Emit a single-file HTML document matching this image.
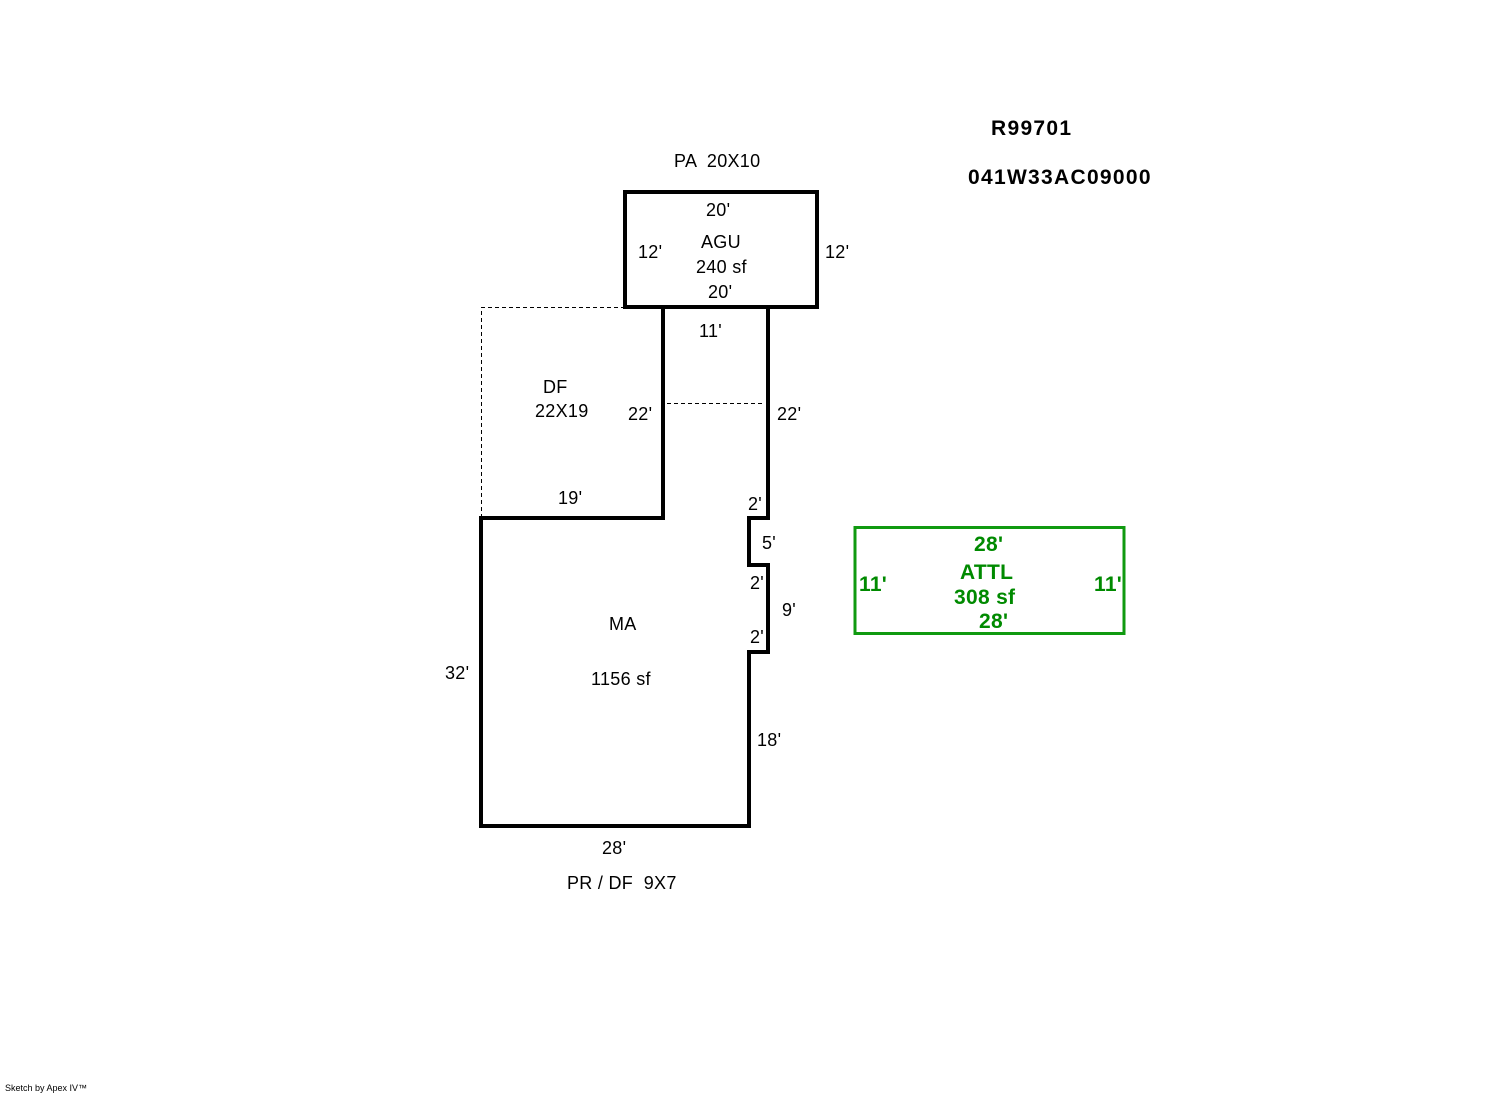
<!DOCTYPE html>
<html><head><meta charset="utf-8"><style>
body{margin:0;background:#fff}
svg text{font-family:"Liberation Sans",Arial,sans-serif;font-size:18px;fill:#000;white-space:pre;letter-spacing:0.3px}
.g{fill:#008a00;font-weight:bold;font-size:21px}
.b{font-weight:bold;font-size:21px;letter-spacing:1.3px}
</style></head><body>
<svg width="1492" height="1094" xmlns="http://www.w3.org/2000/svg">
<g fill="none" stroke="#000" stroke-width="1" stroke-dasharray="4,3">
<polyline points="625,307.5 481.5,307.5 481.5,518"/>
<line x1="667" y1="403.5" x2="765" y2="403.5"/>
</g>
<rect x="625" y="192" width="192" height="115" fill="none" stroke="#000" stroke-width="4"/>
<polyline fill="none" stroke="#000" stroke-width="4" points="663,307 663,518 481,518 481,826 749,826 749,652 768,652 768,565 749,565 749,518 768,518 768,307"/>
<rect x="855" y="527.5" width="269" height="106" fill="none" stroke="#109a10" stroke-width="3"/>
<text x="674" y="167">PA  20X10</text>
<text x="706" y="216">20'</text>
<text x="701" y="248">AGU</text>
<text x="696" y="273">240 sf</text>
<text x="708" y="298">20'</text>
<text x="638" y="258">12'</text>
<text x="825" y="258">12'</text>
<text x="699" y="337">11'</text>
<text x="543" y="393">DF</text>
<text x="535" y="417">22X19</text>
<text x="628" y="420">22'</text>
<text x="777" y="420">22'</text>
<text x="558" y="504">19'</text>
<text x="748" y="510">2'</text>
<text x="762" y="549">5'</text>
<text x="750" y="589">2'</text>
<text x="782" y="616">9'</text>
<text x="750" y="643">2'</text>
<text x="609" y="630">MA</text>
<text x="591" y="685">1156 sf</text>
<text x="445" y="679">32'</text>
<text x="757" y="746">18'</text>
<text x="602" y="854">28'</text>
<text x="567" y="889">PR / DF  9X7</text>
<text class="b" x="991" y="135">R99701</text>
<text class="b" x="968" y="184">041W33AC09000</text>
<text class="g" x="974" y="551">28'</text>
<text class="g" x="960" y="579">ATTL</text>
<text class="g" x="954" y="604">308 sf</text>
<text class="g" x="979" y="628">28'</text>
<text class="g" x="859" y="591">11'</text>
<text class="g" x="1094" y="591">11'</text>
<text x="5" y="1091" style="font-size:9px;letter-spacing:0">Sketch by Apex IV™</text>
</svg>
</body></html>
